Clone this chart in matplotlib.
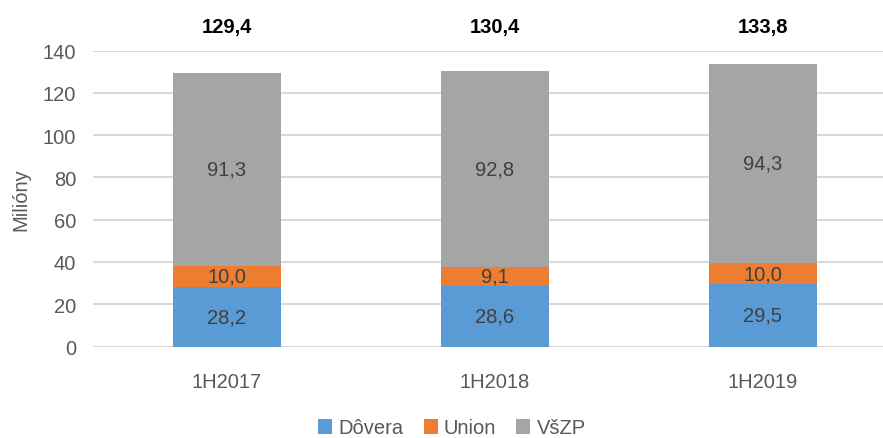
import numpy as np
import matplotlib.pyplot as plt

plt.rcParams['font.family'] = ['Liberation Sans', 'DejaVu Sans']

periods = ["1H2017", "1H2018", "1H2019"]
dovera = [28.2, 28.6, 29.5]
union = [10.0, 9.1, 10.0]
vszp = [91.3, 92.8, 94.3]
totals = [129.4, 130.4, 133.8]
series_names = ["Dôvera", "Union", "VšZP"]
colors = ["#5B9BD5", "#ED7D31", "#A5A5A5"]

def fmt(v):
    return f"{v:.1f}".replace(".", ",")

fig = plt.figure(figsize=(8.83, 4.39), dpi=100)
ax = fig.add_axes([0.1053, 0.2084, 0.9105, 0.674])

x = np.arange(len(periods))
bottom = np.zeros(len(periods))
for vals, name, col in zip([dovera, union, vszp], series_names, colors):
    ax.bar(x, vals, width=0.4, bottom=bottom, color=col, label=name, zorder=3)
    for xi, b, v in zip(x, bottom, vals):
        ax.text(xi, b + v / 2, fmt(v), ha="center", va="center",
                fontsize=14.5, color="#404040", zorder=4)
    bottom += np.array(vals)

# totals above the plot
for xi, t in zip(x, totals):
    ax.text(xi, 151.5, fmt(t), ha="center", va="center", fontsize=14.5,
            fontweight="bold", color="black", clip_on=False)

ax.set_xlim(-0.5, 2.5)
ax.set_ylim(0, 140)
ax.set_yticks(range(0, 141, 20))
ax.set_xticks(x)
ax.set_xticklabels(periods)
ax.tick_params(axis="both", length=0, labelsize=14.5, labelcolor="#595959")
ax.tick_params(axis="x", pad=18)
ax.tick_params(axis="y", pad=12)
ax.yaxis.grid(True, color="#D9D9D9", linewidth=1.5, zorder=0)
for s in ax.spines.values():
    s.set_visible(False)
ax.set_ylabel("Milióny", fontsize=14.5, color="#595959", labelpad=9)

handles, labels = ax.get_legend_handles_labels()
fig.legend(handles, labels, loc="center", bbox_to_anchor=(452 / 883, 1 - 429 / 439),
           ncol=3, frameon=False, fontsize=14.5, handlelength=0.7, handleheight=0.7,
           handletextpad=0.3, columnspacing=1.0, labelcolor="#595959")

plt.savefig("out.png", dpi=100)
